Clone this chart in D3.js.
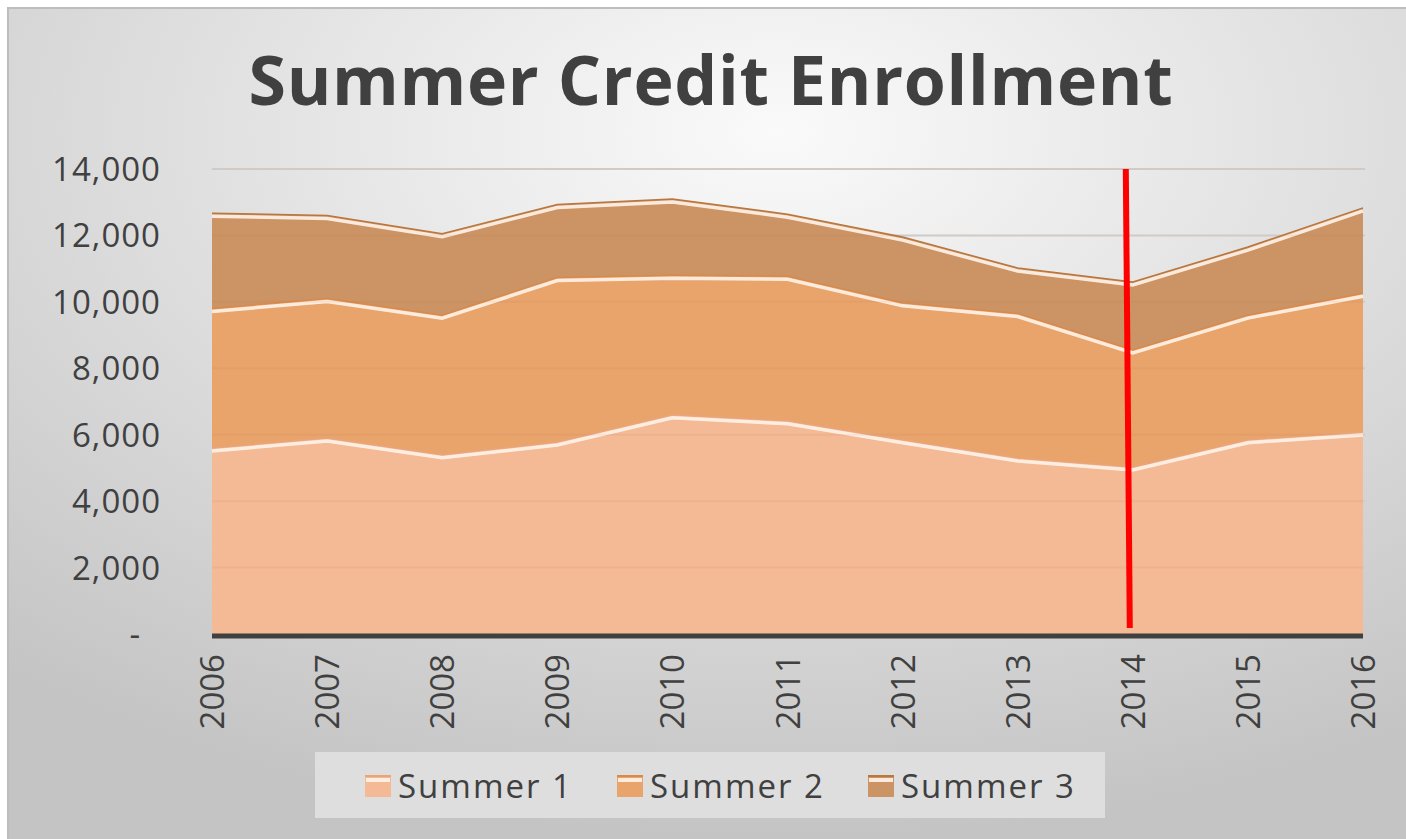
<!DOCTYPE html>
<html><head><meta charset="utf-8">
<script src="https://cdn.jsdelivr.net/npm/d3@7"></script>
<style>html,body{margin:0;padding:0;background:#fff;}svg{display:block;}</style>
</head><body>
<script>
const years = [2006,2007,2008,2009,2010,2011,2012,2013,2014,2015,2016];
const summer1 = [5600,5900,5400,5780,6600,6420,5850,5300,5030,5850,6080];
const summer2 = [4200,4200,4200,4950,4200,4350,4120,4350,3520,3750,4180];
const summer3 = [2870,2500,2450,2200,2300,1870,1980,1370,2050,2050,2570];
const seriesNames = ["Summer 1","Summer 2","Summer 3"];
const yTicks = [0,2000,4000,6000,8000,10000,12000,14000];
const markerYear = 2014;

const colors = ["#f4b995","#e8a46b","#cc9364"];
const edgeColors = ["#eaa47a","#d8894c","#b8773f"];

const W = 1406, H = 839;
const svg = d3.select("body").append("svg").attr("width",W).attr("height",H);
const defs = svg.append("defs");
const rg = defs.append("radialGradient").attr("id","bg")
  .attr("cx","0.55").attr("cy","0.15").attr("r","0.85");
rg.append("stop").attr("offset","0").attr("stop-color","#fafafa");
rg.append("stop").attr("offset","0.45").attr("stop-color","#e2e2e2");
rg.append("stop").attr("offset","1").attr("stop-color","#c4c4c4");

svg.append("rect").attr("x",0).attr("y",0).attr("width",W).attr("height",H).attr("fill","#fff");
svg.append("rect").attr("x",7).attr("y",7).attr("width",W-7).attr("height",H-7).attr("fill","url(#bg)");
svg.append("line").attr("x1",7).attr("x2",W).attr("y1",8).attr("y2",8).attr("stroke","#bdbdbd").attr("stroke-width",2);
svg.append("line").attr("x1",8).attr("x2",8).attr("y1",7).attr("y2",H).attr("stroke","#bdbdbd").attr("stroke-width",2);

const x = d3.scaleLinear().domain([2006,2016]).range([212,1363]);
const y = d3.scaleLinear().domain([0,14000]).range([634,169]);

// title
svg.append("text").attr("x",711).attr("y",105).attr("text-anchor","middle")
  .attr("font-family","'Open Sans', sans-serif").attr("font-weight",700)
  .attr("font-size",68).attr("letter-spacing",0.7).attr("fill","#404040").text("Summer Credit Enrollment");

// gridlines
const grid = svg.append("g");
grid.selectAll("line").data(yTicks.filter(d=>d>0)).join("line")
  .attr("x1",x(2006)).attr("x2",x(2016)+2).attr("y1",d=>y(d)).attr("y2",d=>y(d))
  .attr("stroke","#d4d4d4").attr("stroke-width",2);

// stacked data
const table = years.map((yr,i)=>({year:yr,"Summer 1":summer1[i],"Summer 2":summer2[i],"Summer 3":summer3[i]}));
const stack = d3.stack().keys(seriesNames)(table);
const area = d3.area().x(d=>x(d.data.year)).y0(d=>y(d[0])).y1(d=>y(d[1]));
const topLine = d3.line().x(d=>x(d.data.year)).y(d=>y(d[1]));

const g = svg.append("g");
stack.slice().reverse().forEach(s=>{
  const i = seriesNames.indexOf(s.key);
  g.append("path").datum(s).attr("d",area).attr("fill",colors[i]);
});
stack.forEach((s,i)=>{
  g.append("path").datum(s).attr("d",topLine).attr("fill","none")
    .attr("stroke",edgeColors[i]).attr("stroke-width",1.5);
  g.append("path").datum(s).attr("d",topLine).attr("fill","none")
    .attr("transform","translate(0,3)")
    .attr("stroke","#fff4ea").attr("stroke-width",3.5).attr("opacity",0.9);
});

// faint gridlines through areas
svg.append("g").selectAll("line").data(yTicks.filter(d=>d>0)).join("line")
  .attr("x1",x(2006)).attr("x2",x(2016)+2).attr("y1",d=>y(d)).attr("y2",d=>y(d))
  .attr("stroke","#b07040").attr("stroke-width",2).attr("opacity",0.08);

// baseline axis
svg.append("line").attr("x1",x(2006)).attr("x2",x(2016)).attr("y1",y(0)+2).attr("y2",y(0)+2)
  .attr("stroke","#404040").attr("stroke-width",5);

// y axis labels
const yAxis = d3.axisLeft(y).tickValues(yTicks).tickSize(0).tickPadding(0)
  .tickFormat(d=> d===0 ? "-" : d3.format(",")(d));
const ya = svg.append("g").attr("transform","translate(161,0)").call(yAxis);
ya.select(".domain").remove();
ya.selectAll("text").attr("font-family","'Open Sans', sans-serif").attr("font-size",33)
  .attr("letter-spacing",1).attr("fill","#404040").attr("dy","0.35em");
ya.selectAll(".tick").filter(d=>d===0).select("text").attr("x",-20);

// x axis labels
const xAxis = d3.axisBottom(x).tickValues(years).tickSize(0).tickFormat(d3.format("d"));
const xa = svg.append("g").attr("transform",`translate(0,${y(0)})`).call(xAxis);
xa.select(".domain").remove();
xa.selectAll("text").attr("font-family","'Open Sans', sans-serif").attr("font-size",33)
  .attr("fill","#404040").attr("text-anchor","end")
  .attr("transform","rotate(-90)").attr("x",-20).attr("y",0).attr("dy","0.35em");

// red marker line
svg.append("line")
  .attr("x1",x(markerYear)-7).attr("y1",y(14000))
  .attr("x2",x(markerYear)-3).attr("y2",y(0)-6)
  .attr("stroke","#ff0000").attr("stroke-width",6);

// legend
const lg = svg.append("g");
lg.append("rect").attr("x",315).attr("y",752).attr("width",790).attr("height",66).attr("fill","#dedede");
const legX = [365,617,868];
seriesNames.forEach((n,i)=>{
  const gx = legX[i];
  lg.append("rect").attr("x",gx).attr("y",775).attr("width",26).attr("height",22).attr("fill",colors[i]);
  lg.append("rect").attr("x",gx).attr("y",775).attr("width",26).attr("height",2).attr("fill",edgeColors[i]);
  lg.append("rect").attr("x",gx+1).attr("y",778).attr("width",24).attr("height",4).attr("fill","#fff4ea").attr("opacity",0.9);
  lg.append("text").attr("x",gx+33).attr("y",786).attr("dy","0.35em")
    .attr("font-family","'Open Sans', sans-serif").attr("font-size",33).attr("letter-spacing",2)
    .attr("fill","#404040").text(n);
});
</script>
</body></html>
